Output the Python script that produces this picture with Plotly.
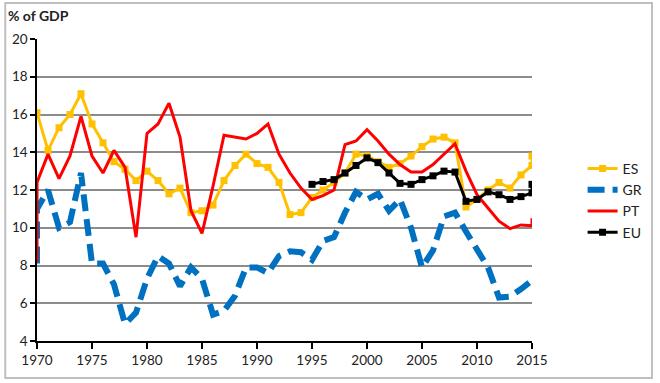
import plotly.graph_objects as go

years = list(range(1970, 2016))

es = [16.1, 14.1, 15.3, 16.0, 17.1, 15.5, 14.5, 13.5, 13.1, 12.5,
      13.0, 12.5, 11.8, 12.1, 10.8, 10.9, 11.2, 12.5, 13.3, 13.9,
      13.4, 13.2, 12.4, 10.7, 10.8, 11.6, 12.0, 12.4, 12.9, 13.9,
      13.8, 13.5, 13.2, 13.4, 13.8, 14.3, 14.7, 14.8, 14.5, 11.1,
      11.5, 12.0, 12.4, 12.1, 12.8, 13.3]
es_end = 13.8

gr_start = 8.1
gr = [11.0, 12.0, 10.0, 10.3, 12.9, 8.1, 8.1, 7.0, 4.9, 5.5,
      7.3, 8.5, 8.1, 6.9, 7.9, 7.3, 5.4, 5.6, 6.4, 7.9,
      7.9, 7.6, 8.5, 8.75, 8.7, 8.3, 9.3, 9.5, 10.8, 11.9,
      11.5, 11.8, 10.9, 11.5, 10.0, 7.9, 8.8, 10.6, 10.8, 9.8,
      8.9, 7.9, 6.3, 6.35, 6.75, 7.2]

pt_start = 8.2
pt = [12.4, 13.9, 12.6, 13.8, 15.9, 13.8, 12.9, 14.1, 13.2, 9.5,
      15.0, 15.5, 16.6, 14.8, 10.9, 9.7, 12.2, 14.9, 14.8, 14.7,
      15.0, 15.5, 13.9, 12.9, 12.1, 11.5, 11.7, 12.0, 14.4, 14.6,
      15.2, 14.6, 13.9, 13.35, 12.95, 12.95, 13.35, 13.9, 14.45, 13.0,
      11.75, 11.05, 10.35, 9.95, 10.15, 10.1]
pt_end = 10.5

eu_years = list(range(1995, 2016))
eu = [12.3, 12.45, 12.55, 12.9, 13.3, 13.7, 13.45, 12.9, 12.35, 12.3,
      12.55, 12.75, 13.0, 12.95, 11.4, 11.5, 11.9, 11.75, 11.5, 11.65,
      11.85]
eu_end = 12.3

y_ticks = [4, 6, 8, 10, 12, 14, 16, 18, 20]
x_ticks = [1970, 1975, 1980, 1985, 1990, 1995, 2000, 2005, 2010, 2015]

FONT = "Lato, 'Open Sans', sans-serif"

fig = go.Figure()
fig.add_trace(go.Scatter(
    x=years + [years[-1]], y=es + [es_end], name="ES", mode="lines+markers",
    line=dict(color="#FFC000", width=3),
    marker=dict(symbol="square", size=7, color="#FFC000")))
fig.add_trace(go.Scatter(
    x=[years[0]] + years, y=[gr_start] + gr, name="GR", mode="lines",
    line=dict(color="#0070C0", width=6, dash="17px,8px")))
fig.add_trace(go.Scatter(
    x=[years[0]] + years + [years[-1]], y=[pt_start] + pt + [pt_end], name="PT", mode="lines",
    line=dict(color="#FF0000", width=3)))
fig.add_trace(go.Scatter(
    x=eu_years + [eu_years[-1]], y=eu + [eu_end], name="EU", mode="lines+markers",
    line=dict(color="#000000", width=3),
    marker=dict(symbol="square", size=7, color="#000000")))

L, R, T, B = 35, 126, 39, 42
W, H = 660, 383
pw, ph = W - L - R, H - T - B

def px(xp):
    return (xp - L) / pw

def py(yp):
    return (H - B - yp) / ph

fig.update_layout(
    width=W, height=H,
    margin=dict(l=L, r=R, t=T, b=B),
    paper_bgcolor="white", plot_bgcolor="white",
    font=dict(family=FONT, size=13.5, color="#222222"),
    showlegend=True,
    legend=dict(x=px(585), y=py(153), xanchor="left", yanchor="top",
                font=dict(family=FONT, size=14, color="#222222"),
                bgcolor="rgba(0,0,0,0)", tracegroupgap=0, itemwidth=30),
    xaxis=dict(range=[1970, 2015], tickvals=x_ticks, showgrid=False,
               showline=True, linecolor="#000000", linewidth=1.5,
               ticks="outside", ticklen=6, tickcolor="#000000", tickwidth=1.5,
               zeroline=False, tickfont=dict(size=13.5)),
    yaxis=dict(range=[4, 20], tickvals=y_ticks, showgrid=True,
               gridcolor="#8c8c8c", gridwidth=1.5,
               showline=True, linecolor="#000000", linewidth=1.5,
               ticks="outside", ticklen=5, tickcolor="#000000", tickwidth=1.5,
               zeroline=False, tickfont=dict(size=13.5)),
    annotations=[dict(text="<b>% of GDP</b>", xref="paper", yref="paper",
                      x=px(4), y=py(15), xanchor="left", yanchor="middle",
                      showarrow=False, font=dict(family=FONT, size=14, color="#222222"))],
    shapes=[dict(type="rect", xref="paper", yref="paper",
                 x0=px(3), x1=px(655), y0=py(378), y1=py(3),
                 line=dict(color="#BFBFBF", width=2))],
)

fig.write_html("out.html",
               config={"displayModeBar": False},
               post_script="document.body.style.margin='0';document.body.style.overflow='hidden';")
